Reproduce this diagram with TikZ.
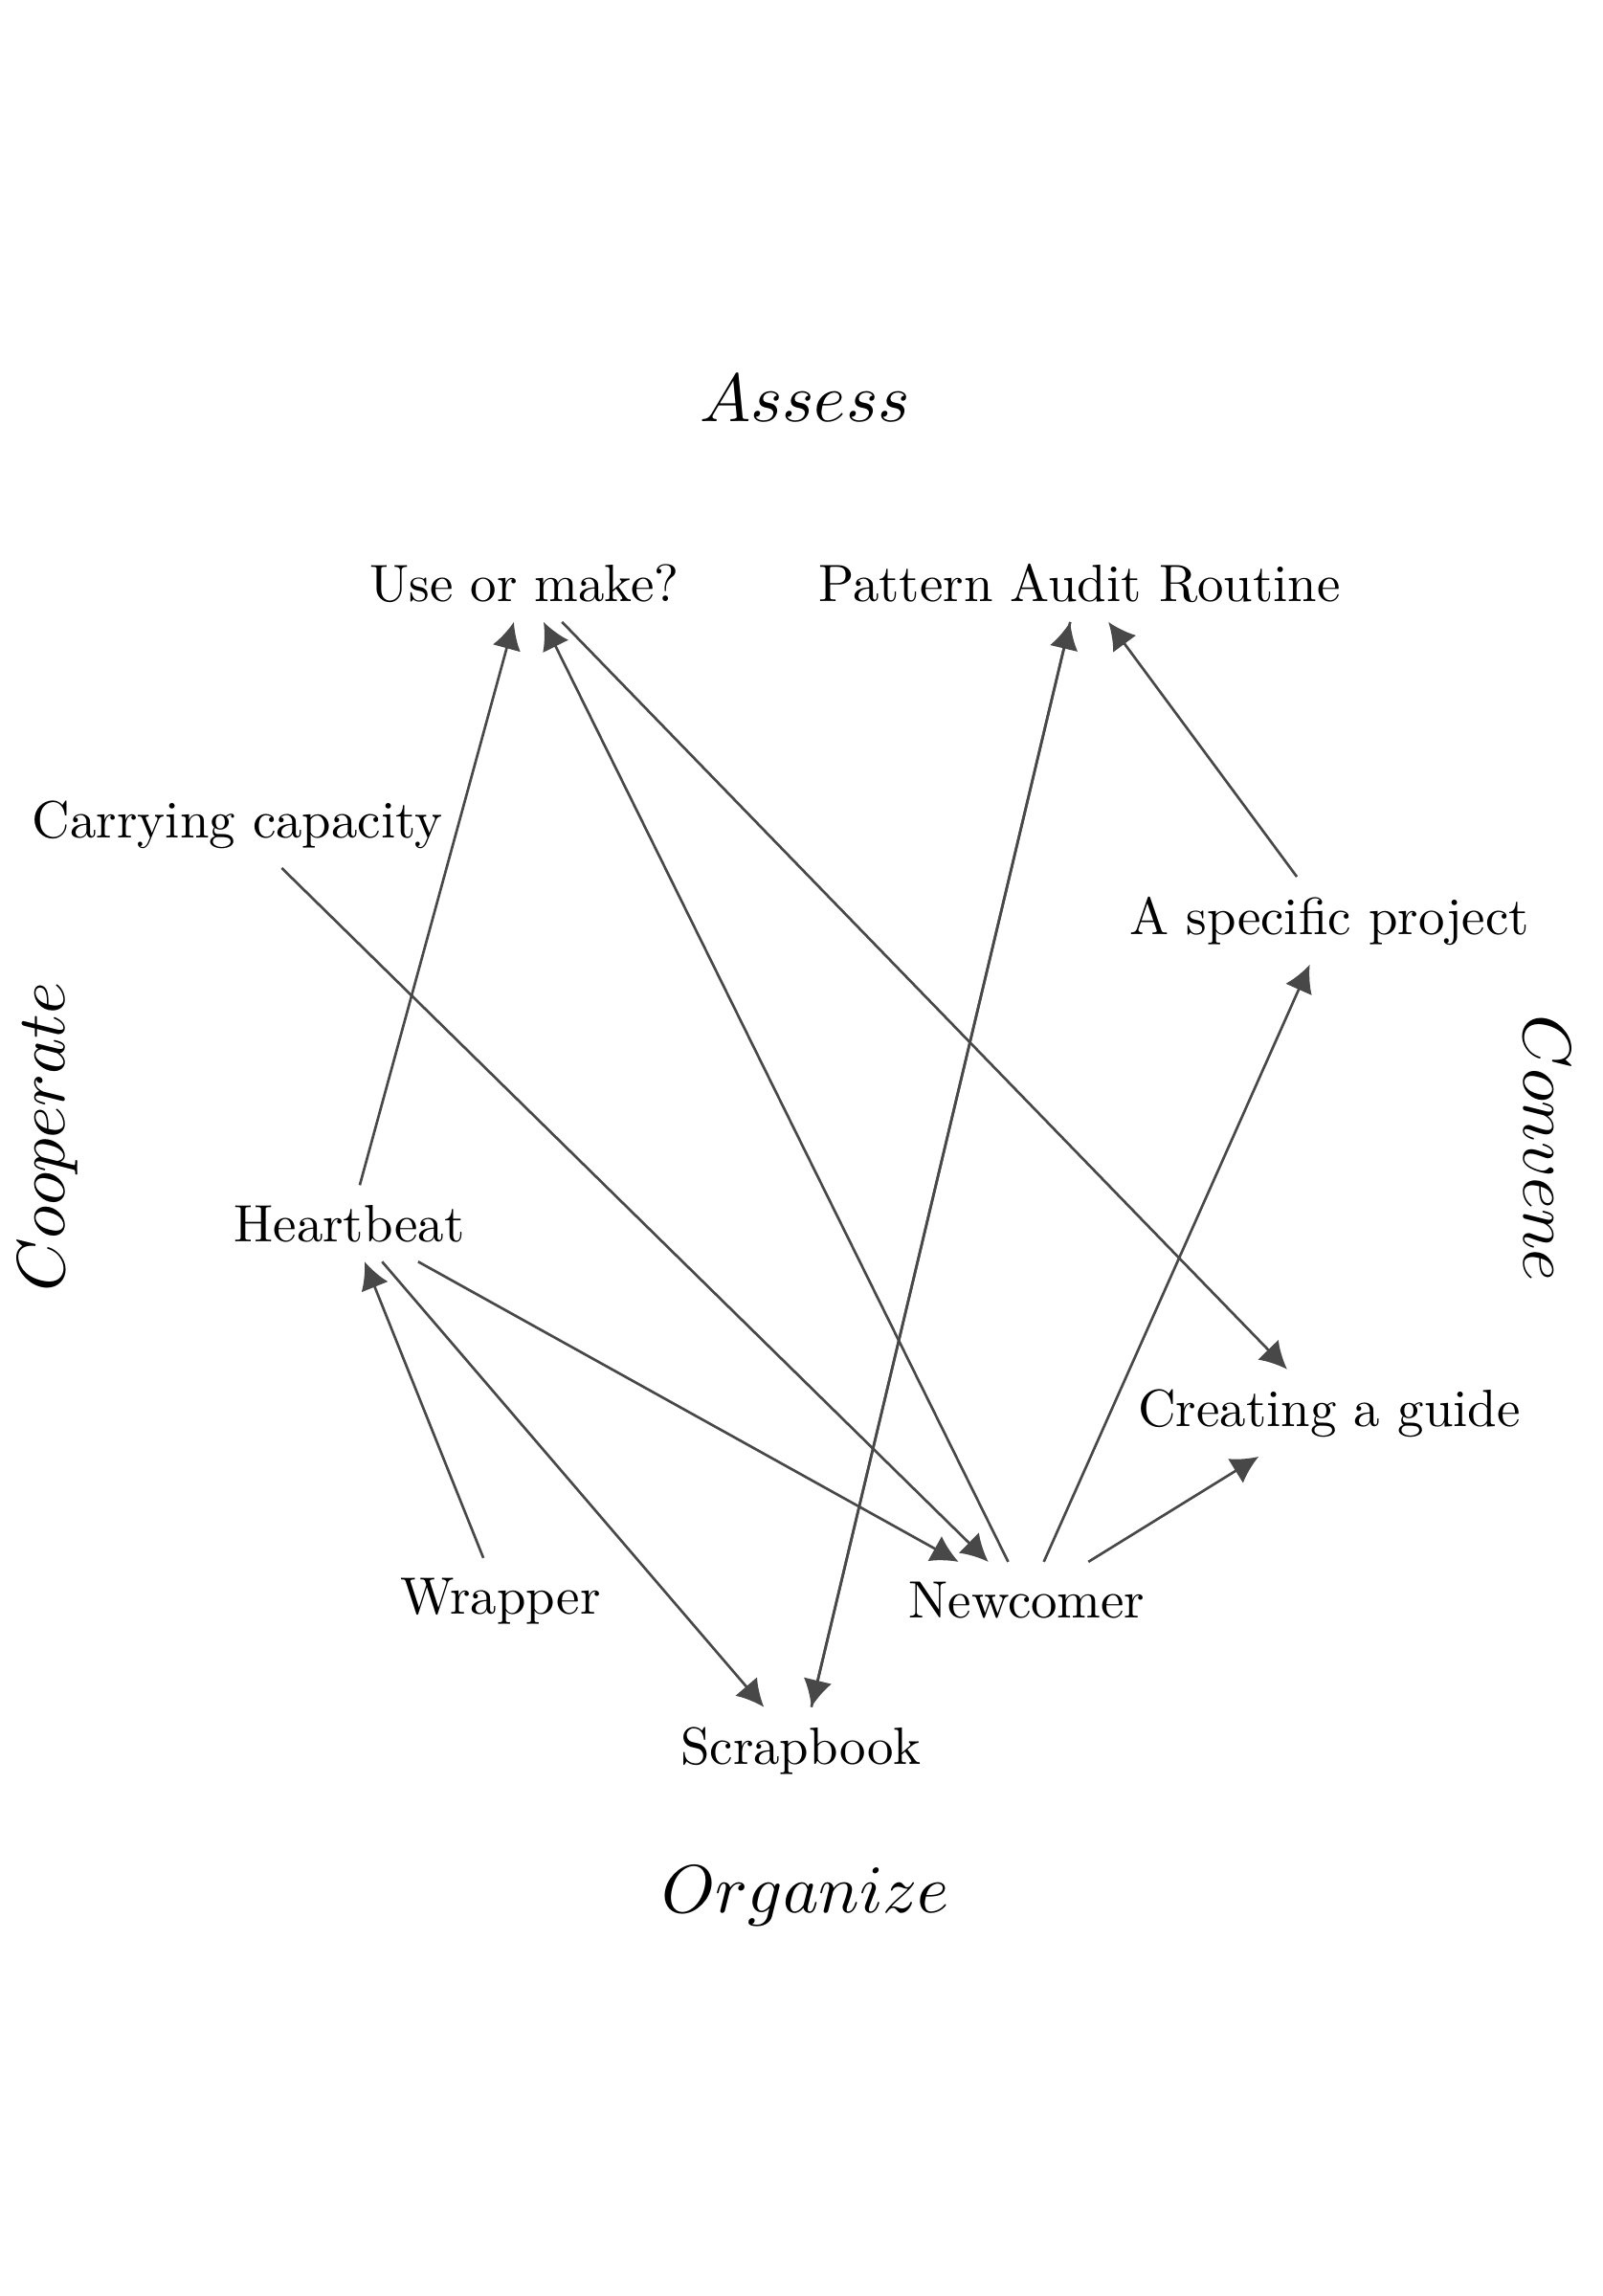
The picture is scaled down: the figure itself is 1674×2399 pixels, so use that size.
\documentclass[tikz,border=0pt]{standalone}
\usepackage{fontspec}
\setmainfont{lmroman10-regular}[Extension=.otf]
\DeclareFontShape{OML}{cmm}{m}{it}{<->cmmi10}{}
\usetikzlibrary{arrows.meta}
\definecolor{edgegray}{HTML}{484848}
\begin{document}
\begin{tikzpicture}[x=0.3pt,y=-0.3pt,
  lbl/.style={inner sep=6pt, anchor=base, font=\fontsize{16.45}{19}\selectfont},
  big/.style={inner sep=0pt, font=\fontsize{21.3}{25}\selectfont},
  conn/.style={draw=edgegray, line width=0.8pt, -{Latex[length=8.5pt,width=9pt]}}]
\useasboundingbox (0,0) rectangle (1674,2399);
% section labels
\node[big, anchor=base] (assess) at (841,440) {$Assess$};
\node[big, anchor=base] (organize) at (842,1998) {$Organize$};
\node[big, rotate=90] (coop) at (50,1188) {$Cooperate$};
\node[big, rotate=-90] (conv) at (1617,1200) {$Convene$};
% nodes
\node[lbl] (use) at (548,628) {Use or make?};
\node[lbl] (pat) at (1128,628) {Pattern Audit Routine};
\node[lbl] (carry) at (248,875) {Carrying capacity};
\node[lbl] (spec) at (1389,976) {A specific project};
\node[lbl] (hb) at (365,1297) {Heartbeat};
\node[lbl] (guide) at (1389,1490) {Creating a guide};
\node[lbl] (wrap) at (523,1686) {Wrapper};
\node[lbl] (new) at (1073,1690) {Newcomer};
\node[lbl] (scrap) at (837,1843) {Scrapbook};
% connectors
\draw[conn] (hb) -- (use);
\draw[conn] (new) -- (use);
\draw[conn] (use) -- (guide);
\draw[conn] (carry) -- (new);
\draw[conn] (pat) -- (scrap);
\draw[conn] (scrap) -- (pat);
\draw[conn] (spec) -- (pat);
\draw[conn] (new) -- (spec);
\draw[conn] (new) -- (guide);
\draw[conn] (hb) -- (new);
\draw[conn] (hb) -- (scrap);
\draw[conn] (wrap) -- (hb);
\end{tikzpicture}
\end{document}
